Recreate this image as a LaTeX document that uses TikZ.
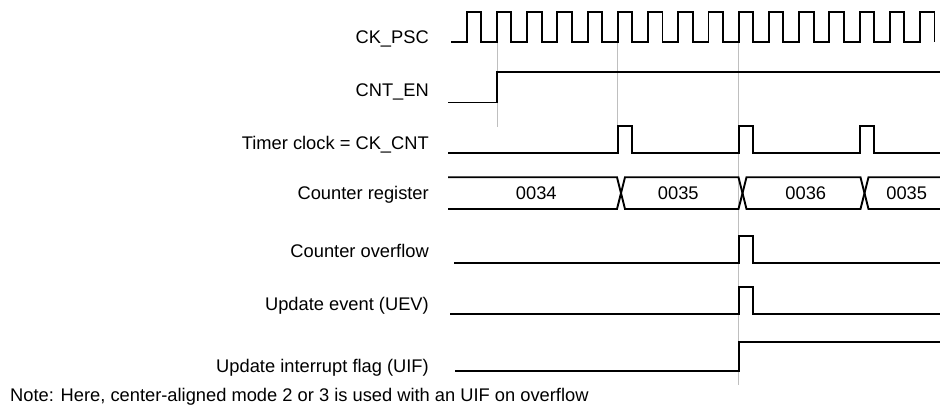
\documentclass[tikz,border=0pt]{standalone}
\usepackage{fontspec}
\setmainfont{Liberation Sans}
\begin{document}
\begin{tikzpicture}[x=1pt, y=-1pt, font=\fontsize{18.3}{22}\selectfont,
	sig/.style={line width=1.9pt},
	guide/.style={black!25, line width=0.8pt},
	lbl/.style={anchor=base east, inner sep=0pt},
	val/.style={anchor=base, inner sep=0pt}]
	\useasboundingbox (0,0) rectangle (940,409);
	\draw[guide] (496.9,42) -- (496.9,127);
	\draw[guide] (617.8,42) -- (617.8,126);
	\draw[guide] (738.7,42) -- (738.7,385);
	% CK_PSC
	\draw[sig] (451,42) \foreach \k in {0,...,15} {-- ({466.7+\k*30.22},42) -- ++(0,-30) -- ++(14.5,0) -- ++(0,30)};
	% CNT_EN
	\draw[sig] (448,102.5) -- (496.9,102.5) -- (496.9,72) -- (940,72);
	% timer clock
	\draw[sig] (448,153.3) \foreach \x in {617.8,738.7,859.6} {-- (\x,153.3) -- (\x,126) -- ++(14.5,0) -- ++(0,27.3)} -- (940,153.3);
	% counter register
	\draw[sig] (448,177.3) -- (617,177.3) -- (625,209) -- (738.5,209) -- (746.5,177.3) -- (860.5,177.3) -- (868.5,209) -- (940,209);
	\draw[sig] (448,209) -- (617,209) -- (625,177.3) -- (738.5,177.3) -- (746.5,209) -- (860.5,209) -- (868.5,177.3) -- (940,177.3);
	\node[val] (v1) at (536.3,199.7) {0034};
	\node[val] (v2) at (678.3,199.7) {0035};
	\node[val] (v3) at (805.8,199.7) {0036};
	\node[val] (v4) at (906.7,199.7) {0035};
	% overflow, UEV, UIF
	\draw[sig] (454,263.3) -- (738.7,263.3) -- (738.7,236) -- (753.2,236) -- (753.2,263.3) -- (940,263.3);
	\draw[sig] (450,314.3) -- (738.7,314.3) -- (738.7,286.7) -- (753.2,286.7) -- (753.2,314.3) -- (940,314.3);
	\draw[sig] (455,370.7) -- (738.7,370.7) -- (738.7,342) -- (940,342);
	% labels
	\node[lbl] (psc) at (429,43.3) {CK\_PSC};
	\node[lbl] (cnten) at (429,96.7) {CNT\_EN};
	\node[lbl] (tclk) at (429,149.3) {Timer clock = CK\_CNT};
	\node[lbl] (creg) at (429,199.3) {Counter register};
	\node[lbl] (covf) at (429,257.3) {Counter overflow};
	\node[lbl] (uev) at (429,310) {Update event (UEV)};
	\node[lbl] (uif) at (429,372.3) {Update interrupt flag (UIF)};
	\node[anchor=base west, inner sep=0pt] (note) at (10,401.7) {Note: Here, center-aligned mode 2 or 3 is used with an UIF on overflow};
\end{tikzpicture}
\end{document}
